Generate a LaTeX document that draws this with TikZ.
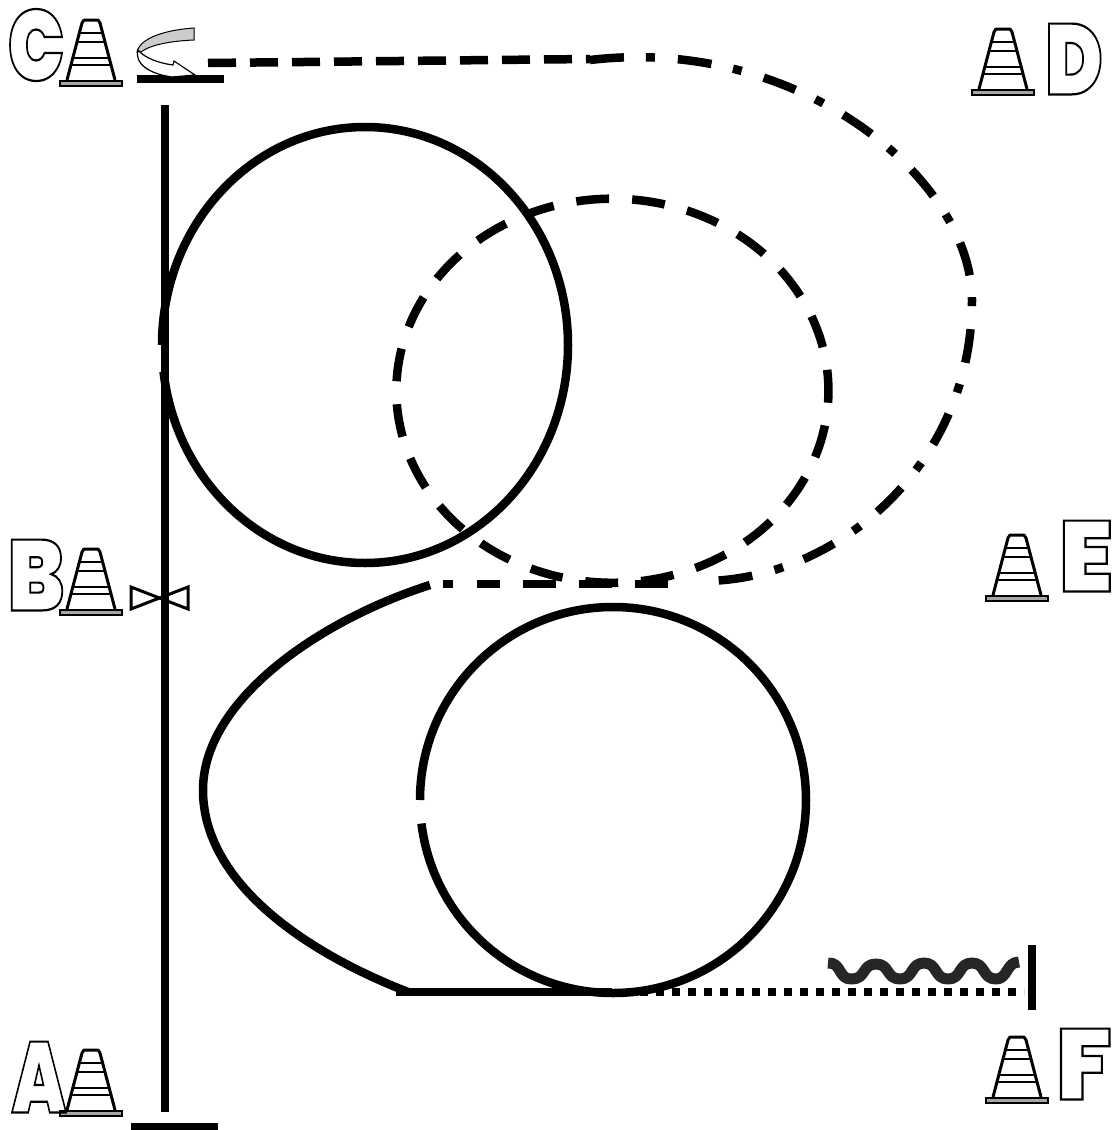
\documentclass[tikz,border=0pt]{standalone}
\usepackage{fontspec}
\setmainfont{Poppins Black}
\usetikzlibrary{calc}
\newcommand{\outlineletter}[1]{\special{pdf:code q 1 Tr 2.2 w}#1\special{pdf:code Q}}
\tikzset{
  x=1pt,y=-1pt,
  thick line/.style={line width=8.5pt,black},
  dash line/.style={thick line,dash pattern=on 33pt off 23pt,dash phase=6pt},
  dashdot line/.style={thick line,dash pattern=on 34pt off 22pt on 9pt off 23pt},
  letter/.style={inner sep=0pt,font=\fontsize{100}{100}\selectfont},
  pics/cone/.style={code={
    \draw[line width=1.5pt,fill=gray!70] (-31,-2) rectangle (31,3);
    \draw[line width=3pt,line join=round] (-24,-3) -- (-9,-60) -- (-7,-63) -- (7,-63) -- (9,-60) -- (24,-3);
    \draw[line width=2.8pt] (-11.6,-50) -- (11.6,-50) (-14,-41) -- (14,-41) (-18.2,-25) -- (18.2,-25) (-20,-18) -- (20,-18);
  }}
}
\begin{document}
\begin{tikzpicture}
\useasboundingbox (0,0) rectangle (1115,1130);
% posts and bars
\draw[line width=8.5pt] (165,105) -- (165,1112);
\draw[line width=8pt] (137,79) -- (224,79);
\draw[line width=8pt] (131,1127) -- (218,1127);
% upper solid ellipse with small gap
\draw[thick line] (162,345) arc[start angle=180,end angle=533,x radius=203,y radius=218];
% dashed ellipse
\draw[dash line] (528,214) arc[start angle=-113,end angle=247,x radius=216,y radius=192];
% long dash-dot route
\draw[line width=8.5pt,dash pattern=on 28pt off 14pt] (208,63) -- (590,59);
\draw[dashdot line] (590,60) .. controls (800,35) and (972,180) .. (972,300) .. controls (972,470) and (830,584) .. (697,581);
\draw[dash line,dash phase=0pt] (668,584) -- (477,584);
\draw[thick line] (453,584) -- (443,584);
% lower left solid curve
\draw[thick line] (430,585) .. controls (320,620) and (203,700) .. (203,790) .. controls (203,880) and (300,950) .. (408,992);
\draw[thick line] (396,992) -- (612,992);
\draw[thick line,dash pattern=on 8pt off 8pt] (640,992) -- (1024,992);
% lower circle with gap
\draw[thick line] (420,800) arc[start angle=180,end angle=533,x radius=193,y radius=193];
\draw[line width=8.5pt] (1032,945) -- (1032,1010);
% wave
\draw[line width=11pt,black!85,line join=round] (828,963) .. controls (842,962) and (838,980) .. (852,979)
  .. controls (866,979) and (862,964) .. (876,964) .. controls (890,964) and (886,979) .. (900,979)
  .. controls (914,979) and (910,963) .. (924,963) .. controls (938,963) and (934,979) .. (948,979)
  .. controls (962,979) and (958,963) .. (972,963) .. controls (986,963) and (982,979) .. (996,979)
  .. controls (1008,979) and (1006,962) .. (1019,962);
% valve
\draw[line width=3pt,line join=miter] (131,587) -- (188,609) -- (188,587) -- (131,609) -- cycle;
% rotation symbol
\draw[line width=1pt,fill=black!20] (194,28) .. controls (165,30) and (140,38) .. (137,52) -- (141,52) .. controls (150,45) and (170,41) .. (194,40) -- cycle;
\draw[line width=1.2pt,fill=white] (138,50) .. controls (134,64) and (150,74) .. (172,77) -- (195,75) -- (174,61) -- (173,65) .. controls (158,63) and (146,58) .. (140,52) -- cycle;
% cones
\pic at (91,83) {cone};
\pic at (91,612) {cone};
\pic at (91,1113) {cone};
\pic at (1003,92) {cone};
\pic at (1017,598) {cone};
\pic at (1017,1100) {cone};
% letters
\node[letter,xscale=0.75] (lc) at (36,45) {\outlineletter{C}};
\node[letter,xscale=0.83] (lb) at (36,575) {\outlineletter{B}};
\node[letter,xscale=0.70] (la) at (39,1077) {\outlineletter{A}};
\node[letter,xscale=0.78] (ld) at (1074,59) {\outlineletter{D}};
\node[letter,xscale=0.97] (le) at (1086,556) {\outlineletter{E}};
\node[letter,xscale=0.97] (lf) at (1084,1064) {\outlineletter{F}};
\end{tikzpicture}
\end{document}
